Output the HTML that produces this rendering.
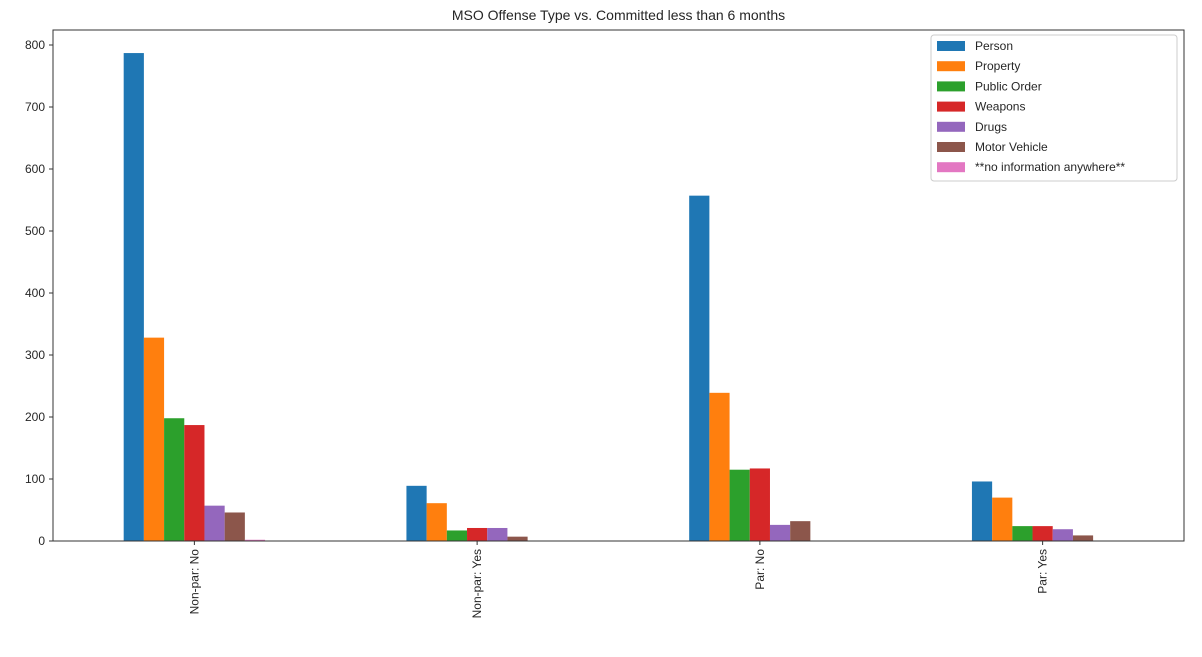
<!DOCTYPE html>
<html><head><meta charset="utf-8"><style>
body{margin:0;background:#fff;width:1202px;height:652px;overflow:hidden}
svg text{font-family:"Liberation Sans","DejaVu Sans",sans-serif;fill:#262626}
</style></head><body>
<svg id="chart" width="1202" height="652" xmlns="http://www.w3.org/2000/svg"></svg>
<script>
const categories = ["Non-par: No","Non-par: Yes","Par: No","Par: Yes"];
const seriesNames = ["Person","Property","Public Order","Weapons","Drugs","Motor Vehicle","**no information anywhere**"];
const person = [787, 89, 557, 96];
const property = [328, 61, 239, 70];
const publicOrder = [198, 17, 115, 24];
const weapons = [187, 21, 117, 24];
const drugs = [57, 21, 26, 19];
const motorVehicle = [46, 7, 32, 9];
const noInfo = [2, 0, 0, 0];
const yTicks = [0,100,200,300,400,500,600,700,800];
const colors = ["#1f77b4","#ff7f0e","#2ca02c","#d62728","#9467bd","#8c564b","#e377c2"];
const series = [person,property,publicOrder,weapons,drugs,motorVehicle,noInfo];

const L=53,R=1184,T=30,B=541;
const x = v => L + (v+0.5)/4*(R-L);
const y = v => B - v*(496/800);
const NS="http://www.w3.org/2000/svg";
const svg=document.getElementById('chart');
function mk(tag,attrs,parent){const e=document.createElementNS(NS,tag);for(const k in attrs)e.setAttribute(k,attrs[k]);(parent||svg).appendChild(e);return e;}

const title=mk('text',{x:(L+R)/2,y:20,'text-anchor':'middle','font-size':14});
title.textContent="MSO Offense Type vs. Committed less than 6 months";



const bw=0.5/7;
series.forEach((vals,si)=>{
  vals.forEach((v,ci)=>{
    const x0=x(ci-0.25+si*bw), x1=x(ci-0.25+(si+1)*bw);
    const r=mk('rect',{x:x0,y:y(v),width:x1-x0,height:B-y(v),fill:colors[si]});
    
    
  });
});

const frame=mk('rect',{x:L,y:T,width:R-L,height:B-T,fill:'none',stroke:'#333','stroke-width':1});



yTicks.forEach(t=>{
  mk('line',{x1:L-4,x2:L,y1:y(t),y2:y(t),stroke:'#333'});
  const tx=mk('text',{x:L-8,y:y(t)+4,'text-anchor':'end','font-size':12});
  tx.textContent=t;
  
  
});
categories.forEach((c,i)=>{
  mk('line',{x1:x(i),x2:x(i),y1:B,y2:B+4,stroke:'#333'});
  const tx=mk('text',{x:0,y:0,'text-anchor':'end','font-size':12,transform:`translate(${x(i)+4},${B+8}) rotate(-90)`});
  tx.textContent=c;
  
  
});

const lg=mk('g',{});


mk('rect',{x:931,y:35,width:246,height:146,fill:'#fff',stroke:'#ccc',rx:3},lg);
seriesNames.forEach((n,i)=>{
  const g=mk('g',{},lg);
  
  
  mk('rect',{x:937,y:41+i*20.2,width:28,height:10,fill:colors[i]},g);
  const t=mk('text',{x:975,y:50+i*20.2,'font-size':12},g);
  t.textContent=n;
});
</script>
</body></html>
